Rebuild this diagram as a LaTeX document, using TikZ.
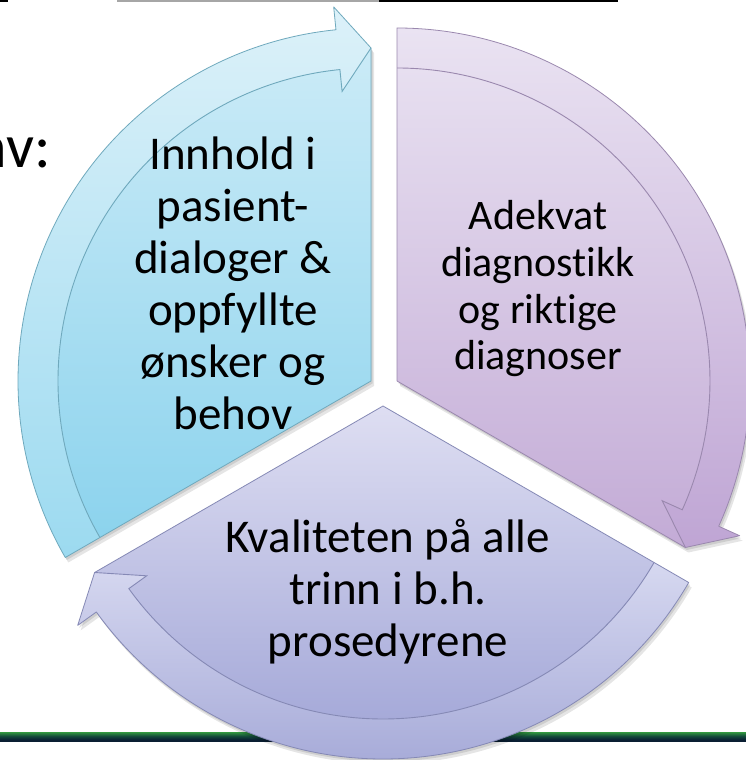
\documentclass[tikz,border=0pt]{standalone}
\usepackage{fontspec}
\setmainfont{Carlito}[Ligatures=NoCommon]
\definecolor{blueBodyTop}{HTML}{CBEBF7}
\definecolor{blueBodyBot}{HTML}{8CD3ED}
\definecolor{blueBandTop}{HTML}{DCF1F9}
\definecolor{blueBandBot}{HTML}{9CDAF0}
\definecolor{blueEdge}{HTML}{6FA9BD}
\definecolor{purBodyTop}{HTML}{E7DFF0}
\definecolor{purBodyBot}{HTML}{C3ABD6}
\definecolor{purBandTop}{HTML}{EAE3F2}
\definecolor{purBandBot}{HTML}{BFA5D4}
\definecolor{purEdge}{HTML}{9A88AE}
\definecolor{botBodyTop}{HTML}{DEDEF2}
\definecolor{botBodyBot}{HTML}{A6AAD9}
\definecolor{botBandTop}{HTML}{D6D8F0}
\definecolor{botBandBot}{HTML}{A8ACD9}
\definecolor{botEdge}{HTML}{8589B5}
\definecolor{barTop}{HTML}{7AC143}
\definecolor{barGreen}{HTML}{2F8F3F}
\definecolor{barMid}{HTML}{134A3A}
\definecolor{barBot}{HTML}{0A1F33}
\definecolor{ruleGray}{HTML}{A6A6A6}
\pgfdeclareverticalshading{greenbar}{100bp}{color(0bp)=(barBot); color(35bp)=(barBot); color(55bp)=(barMid); color(75bp)=(barGreen); color(100bp)=(barTop)}
% #1 apex, #2 start angle, #3 arrow angle, #4-#8 colours
\newcommand\mysegment[8]{%
  \pgfmathsetmacro\segab{#3+5.7}%
  \begin{scope}[shift={(#1)}]
    \begin{scope}[shift={(3,-5)}]
      \fill[black,opacity=0.10] (0,0) -- (#2:353) arc[start angle=#2,end angle=\segab,radius=353]
        -- (\segab:376) -- (#3:333) -- cycle;
    \end{scope}
    \begin{scope}[shift={(1.5,-2.5)}]
      \fill[black,opacity=0.10] (0,0) -- (#2:353) arc[start angle=#2,end angle=\segab,radius=353]
        -- (\segab:376) -- (#3:333) -- cycle;
    \end{scope}
    \shade[top color=#4,bottom color=#5] (0,0) -- (#2:313)
      arc[start angle=#2,end angle=\segab,radius=313] -- (#3:333) -- cycle;
    \shade[top color=#6,bottom color=#7] (#2:313) -- (#2:353)
      arc[start angle=#2,end angle=\segab,radius=353] -- (\segab:376) -- (#3:333)
      -- (\segab:291) -- (\segab:313) arc[start angle=\segab,end angle=#2,radius=313] -- cycle;
    \draw[#8,line width=0.9] (#2:313) arc[start angle=#2,end angle=\segab,radius=313]
      -- (\segab:291) -- (#3:333);
    \draw[#8,line width=0.8,line join=round] (0,0) -- (#2:353) arc[start angle=#2,end angle=\segab,radius=353]
      -- (\segab:376) -- (#3:333) -- cycle;
  \end{scope}}
\tikzset{
  blueline/.style={anchor=base,inner sep=0,font=\fontsize{47}{52}\selectfont},
  purline/.style={anchor=base,inner sep=0,font=\fontsize{42}{47}\selectfont},
  botline/.style={anchor=base,inner sep=0,font=\fontsize{47}{52}\selectfont}
}
\begin{document}
\begin{tikzpicture}[x=1pt,y=1pt]
\useasboundingbox (0,0) rectangle (746,760);
\clip (0,0) rectangle (746,760);
\fill[white] (0,0) rectangle (746,760);
% top rule fragments
\fill[black] (0,757.5) rectangle (8,760);
\fill[ruleGray] (117,757.5) rectangle (379,760);
\fill[black] (379,757.5) rectangle (618,760);
% green bar
\shade[shading=greenbar] (0,18.5) rectangle (746,27.5);
% title fragment
\node[anchor=base east,inner sep=0,font=\fontsize{62}{70}\selectfont] (title) at (51,592) {nv:};
% blue segment
\mysegment{371,379}{210}{90}{blueBodyTop}{blueBodyBot}{blueBandTop}{blueBandBot}{blueEdge}
\node[blueline] (b1) at (233,590) {Innhold i};
\node[blueline] (b2) at (233,538) {pasient-};
\node[blueline] (b3) at (233,486) {dialoger \&};
\node[blueline] (b4) at (233,434) {oppfyllte};
\node[blueline] (b5) at (233,382) {ønsker og};
\node[blueline] (b6) at (233,330) {behov};
% purple segment
\mysegment{397,379}{90}{-30}{purBodyTop}{purBodyBot}{purBandTop}{purBandBot}{purEdge}
\node[purline] (p1) at (538,530) {Adekvat};
\node[purline] (p2) at (538,483.3) {diagnostikk};
\node[purline] (p3) at (538,436.7) {og riktige};
\node[purline] (p4) at (538,390) {diagnoser};
% white halo along the upper-left edge of the bottom segment
\begin{scope}[shift={(383,354)}]
  \draw[white,line width=34,line cap=butt] (0,0) -- (210:320);
\end{scope}
% bottom segment
\mysegment{383,354}{-30}{-150}{botBodyTop}{botBodyBot}{botBandTop}{botBandBot}{botEdge}
\node[botline] (k1) at (388,207) {Kvaliteten på alle};
\node[botline] (k2) at (388,155) {trinn i b.h.};
\node[botline] (k3) at (388,103) {prosedyrene};
\end{tikzpicture}
\end{document}
